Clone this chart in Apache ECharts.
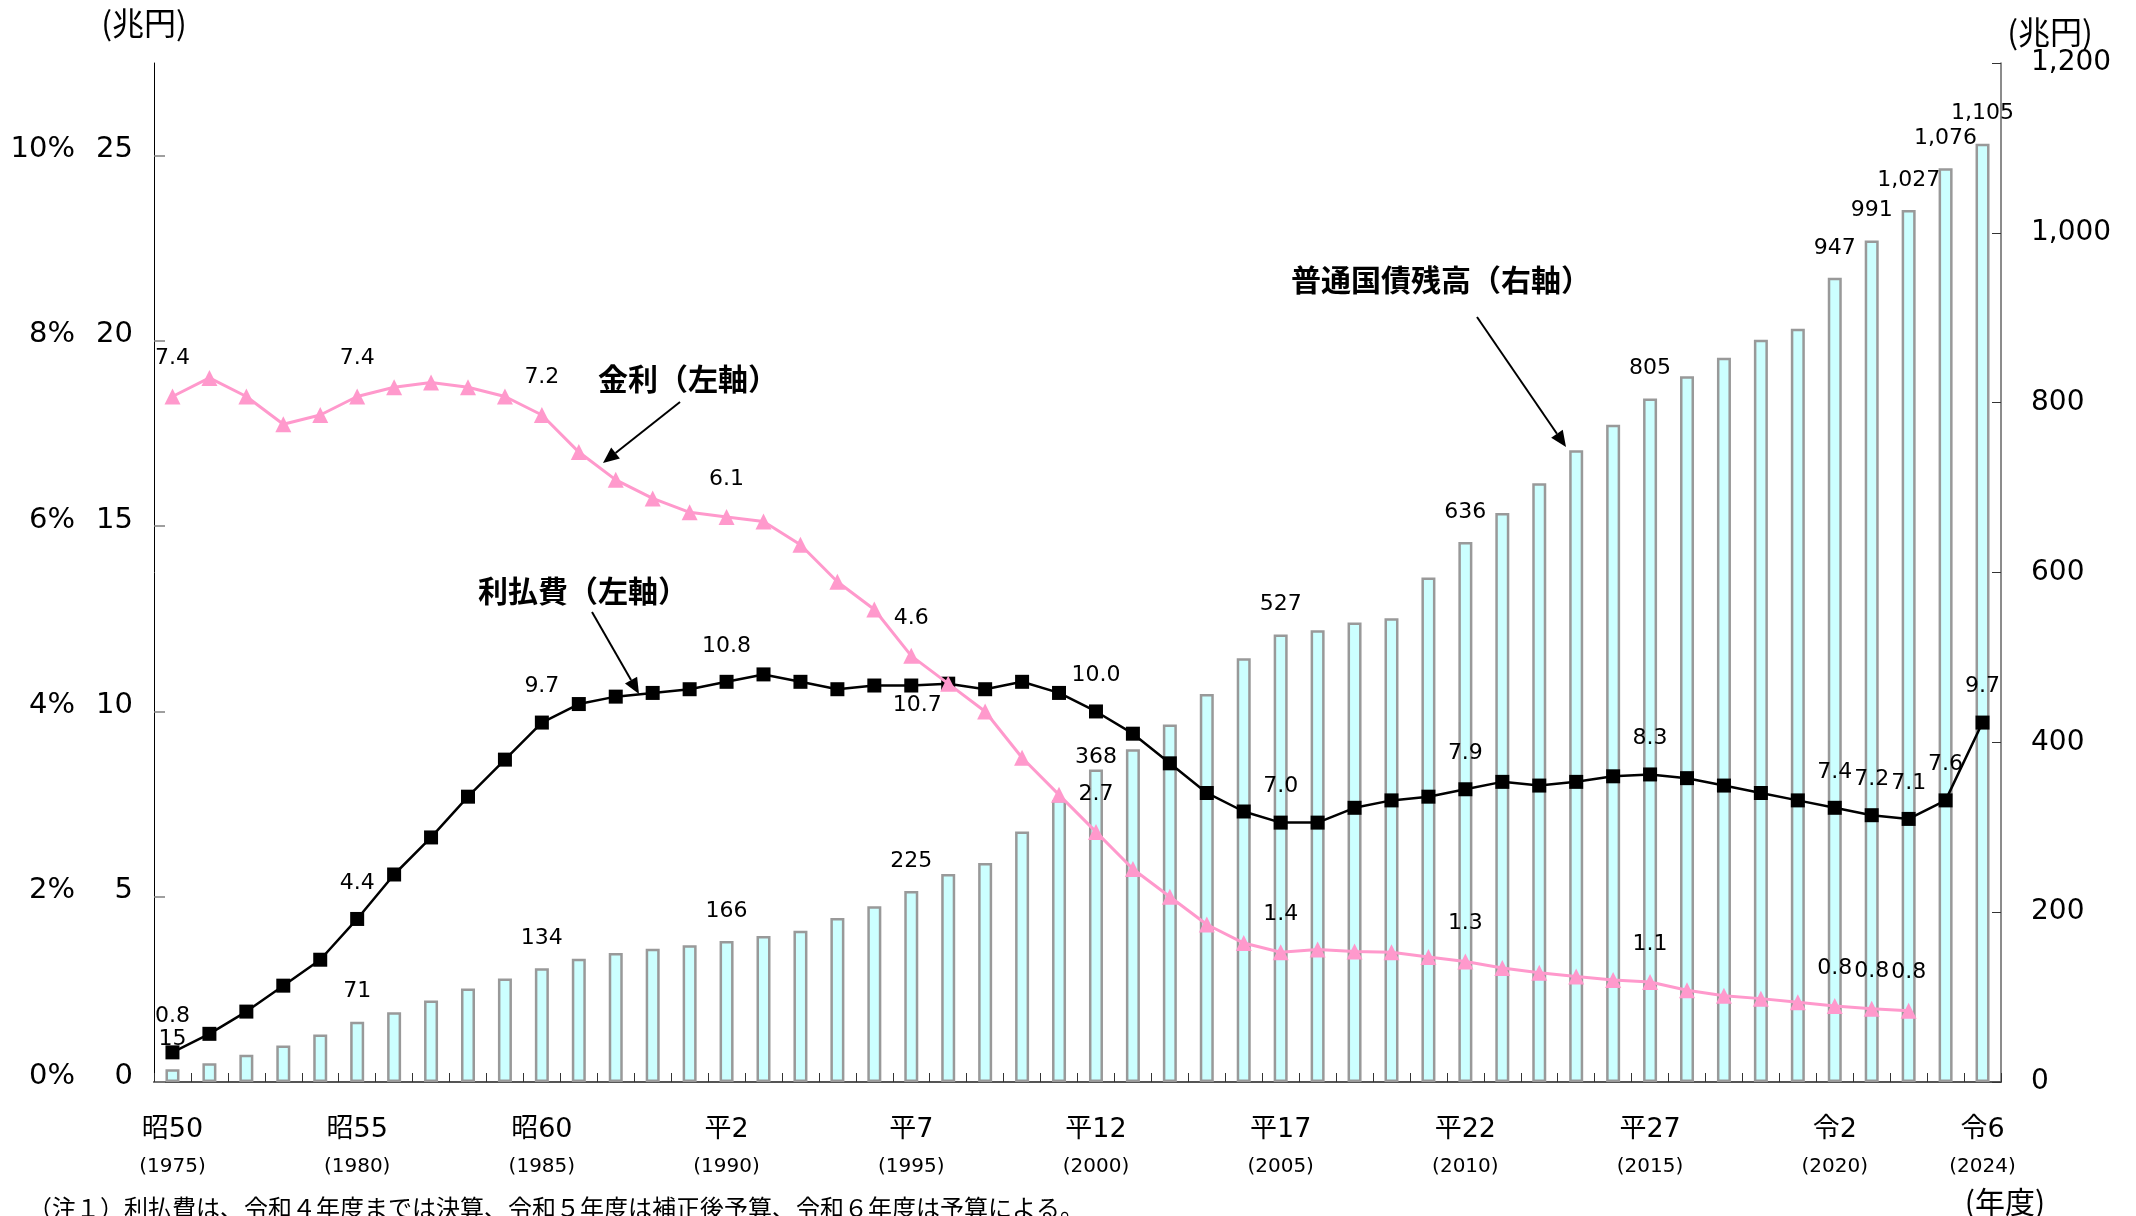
<!DOCTYPE html>
<html>
<head>
<meta charset="utf-8">
<title>普通国債残高・利払費・金利の推移</title>
<script src="https://cdn.jsdelivr.net/npm/echarts@6/dist/echarts.min.js"></script>
<style>
  html, body { margin: 0; padding: 0; background: #fff; }
  #chart { width: 2136px; height: 1216px; }
</style>
</head>
<body>
<div id="chart"></div>
<script>
// 年度（1975〜2024）
const years = [
  '1975','1976','1977','1978','1979','1980','1981','1982','1983','1984',
  '1985','1986','1987','1988','1989','1990','1991','1992','1993','1994',
  '1995','1996','1997','1998','1999','2000','2001','2002','2003','2004',
  '2005','2006','2007','2008','2009','2010','2011','2012','2013','2014',
  '2015','2016','2017','2018','2019','2020','2021','2022','2023','2024'
];

// 目盛に表示する年度と和暦
const tickYears = ['1975','1980','1985','1990','1995','2000','2005','2010','2015','2020','2024'];
const tickEras  = ['昭50','昭55','昭60','平2','平7','平12','平17','平22','平27','令2','令6'];

// 普通国債残高（兆円・右軸）
const debt = [
  15, 22, 32, 43, 56, 71, 82, 96, 110, 122,
  134, 145, 152, 157, 161, 166, 172, 178, 193, 207,
  225, 245, 258, 295, 332, 368, 392, 421, 457, 499,
  527, 532, 541, 546, 594, 636, 670, 705, 744, 774,
  805, 831, 853, 874, 887, 947, 991, 1027, 1076, 1105
];

// 利払費（兆円・左軸）
const interestCost = [
  0.8, 1.3, 1.9, 2.6, 3.3, 4.4, 5.6, 6.6, 7.7, 8.7,
  9.7, 10.2, 10.4, 10.5, 10.6, 10.8, 11.0, 10.8, 10.6, 10.7,
  10.7, 10.75, 10.6, 10.8, 10.5, 10.0, 9.4, 8.6, 7.8, 7.3,
  7.0, 7.0, 7.4, 7.6, 7.7, 7.9, 8.1, 8.0, 8.1, 8.25,
  8.3, 8.2, 8.0, 7.8, 7.6, 7.4, 7.2, 7.1, 7.6, 9.7
];

// 金利（%・左軸、10% = 25兆円の目盛）
const rate = [
  7.4, 7.6, 7.4, 7.1, 7.2, 7.4, 7.5, 7.55, 7.5, 7.4,
  7.2, 6.8, 6.5, 6.3, 6.15, 6.1, 6.05, 5.8, 5.4, 5.1,
  4.6, 4.3, 4.0, 3.5, 3.1, 2.7, 2.3, 2.0, 1.7, 1.5,
  1.4, 1.43, 1.41, 1.4, 1.35, 1.3, 1.23, 1.18, 1.14, 1.1,
  1.08, 0.99, 0.93, 0.9, 0.86, 0.82, 0.79, 0.77, null, null
];

// 数値を表示する年度
const debtLabelYears = ['1975','1980','1985','1990','1995','2000','2005','2010','2015','2020','2021','2022','2023','2024'];
const costLabelYears = ['1975','1980','1985','1990','1995','2000','2005','2010','2015','2020','2021','2022','2023','2024'];
const rateLabelYears = ['1975','1980','1985','1990','1995','2000','2005','2010','2015','2020','2021','2022'];

const leftTicks = [0, 5, 10, 15, 20, 25];

const NUM_FONT = '"DejaVu Sans", "Noto Sans CJK JP", sans-serif';
const JP_FONT = '"Noto Sans CJK JP", "DejaVu Sans", sans-serif';

function withLabels(values, labelYears, overrides) {
  return values.map((v, i) => {
    const y = years[i];
    if (v == null) return null;
    if (!labelYears.includes(y)) return v;
    return { value: v, label: Object.assign({ show: true }, overrides[y] || {}) };
  });
}

function arrow(x1, y1, x2, y2) {
  const len = Math.hypot(x2 - x1, y2 - y1);
  const ux = (x2 - x1) / len, uy = (y2 - y1) / len;
  const head = 16, half = 7;
  const bx = x2 - ux * head, by = y2 - uy * head;
  return {
    type: 'group',
    silent: true,
    children: [
      { type: 'line', shape: { x1: x1, y1: y1, x2: bx, y2: by },
        style: { stroke: '#000', lineWidth: 2 } },
      { type: 'polygon',
        shape: { points: [[x2, y2], [bx - uy * half, by + ux * half], [bx + uy * half, by - ux * half]] },
        style: { fill: '#000' } }
    ]
  };
}

function text(str, x, y, font, align, vAlign) {
  return {
    type: 'text', silent: true, z: 10,
    style: {
      text: str, x: x, y: y, fill: '#000', font: font,
      textAlign: align, textVerticalAlign: vAlign,
      align: align, verticalAlign: vAlign
    }
  };
}

const chart = echarts.init(document.getElementById('chart'), null, { renderer: 'canvas' });

const option = {
  animation: false,
  backgroundColor: '#fff',
  grid: { left: 154, right: 135, top: 63, bottom: 134, containLabel: false, outerBoundsMode: 'none' },
  xAxis: {
    type: 'category',
    data: years,
    boundaryGap: true,
    axisLine: { show: true, lineStyle: { color: '#555', width: 2 } },
    axisTick: { show: true, inside: true, length: 9, interval: 0, lineStyle: { color: '#333', width: 1 } },
    axisLabel: {
      interval: (i, v) => tickYears.includes(v),
      margin: 26,
      formatter: v => '{a|' + tickEras[tickYears.indexOf(v)] + '}\n{b|(' + v + ')}',
      rich: {
        a: { fontSize: 27, lineHeight: 44, fontFamily: NUM_FONT, color: '#000' },
        b: { fontSize: 20, lineHeight: 30, fontFamily: NUM_FONT, color: '#000' }
      }
    },
    splitLine: { show: false }
  },
  yAxis: [
    {
      type: 'value', position: 'left',
      min: 0, max: 27.5, interval: 5,
      axisLine: { show: true, lineStyle: { color: '#000', width: 1 } },
      axisTick: { show: true, inside: true, length: 11, customValues: leftTicks,
                  lineStyle: { color: '#808080', width: 1.5 } },
      axisLabel: {
        customValues: leftTicks,
        margin: 21,
        padding: [0, 0, 12, 0],
        formatter: v => (leftTicks.includes(v) ? '{p|' + (v / 2.5) + '%}{n|' + v + '}' : ''),
        rich: {
          p: { fontSize: 29, fontFamily: NUM_FONT, color: '#000' },
          n: { fontSize: 29, fontFamily: NUM_FONT, color: '#000', width: 58, align: 'right' }
        }
      },
      splitLine: { show: false }
    },
    {
      type: 'value', position: 'right',
      min: 0, max: 1200, interval: 200,
      axisLine: { show: true, lineStyle: { color: '#666', width: 1.5 } },
      axisTick: { show: true, inside: true, length: 9, lineStyle: { color: '#333', width: 1 } },
      axisLabel: {
        margin: 30, fontSize: 28, fontFamily: NUM_FONT, color: '#000',
        formatter: v => v.toLocaleString('en-US')
      },
      splitLine: { show: false }
    },
    {
      type: 'value', show: false, min: 0, max: 11
    }
  ],
  series: [
    {
      name: '普通国債残高',
      type: 'bar',
      yAxisIndex: 1,
      barWidth: 14,
      z: 1,
      itemStyle: { color: '#CCFFFF', borderColor: '#999999', borderWidth: 2.5 },
      label: {
        show: false, position: 'top', distance: 19,
        fontSize: 22, fontFamily: NUM_FONT, color: '#000',
        formatter: p => Number(p.value).toLocaleString('en-US')
      },
      data: withLabels(debt, debtLabelYears, { '2000': { distance: 1 } })
    },
    {
      name: '利払費',
      type: 'line',
      yAxisIndex: 0,
      z: 3,
      symbol: 'rect',
      symbolSize: 14,
      showAllSymbol: true,
      lineStyle: { color: '#000', width: 2.5 },
      itemStyle: { color: '#000' },
      label: {
        show: false, position: 'top', distance: 18,
        fontSize: 22, fontFamily: NUM_FONT, color: '#000',
        formatter: p => Number(p.value).toFixed(1)
      },
      data: withLabels(interestCost, costLabelYears, {
        '1995': { position: 'bottom', distance: 2, offset: [6, 0] }
      })
    },
    {
      name: '金利',
      type: 'line',
      yAxisIndex: 2,
      z: 4,
      symbol: 'triangle',
      symbolSize: 16,
      showAllSymbol: true,
      connectNulls: false,
      lineStyle: { color: '#FF99CC', width: 3 },
      itemStyle: { color: '#FF99CC' },
      label: {
        show: false, position: 'top', distance: 19,
        fontSize: 22, fontFamily: NUM_FONT, color: '#000',
        formatter: p => Number(p.value).toFixed(1)
      },
      data: withLabels(rate, rateLabelYears, {})
    }
  ],
  graphic: [
    text('(兆円)', 144, 23, '32px ' + JP_FONT, 'center', 'middle'),
    text('(兆円)', 2050, 32, '32px ' + JP_FONT, 'center', 'middle'),
    text('(年度)', 2005, 1202, '30px ' + JP_FONT, 'center', 'middle'),
    text('金利（左軸）', 598, 379, 'bold 30px ' + JP_FONT, 'left', 'middle'),
    text('利払費（左軸）', 478, 591, 'bold 30px ' + JP_FONT, 'left', 'middle'),
    text('普通国債残高（右軸）', 1291, 280, 'bold 30px ' + JP_FONT, 'left', 'middle'),
    text('（注１）利払費は、令和４年度までは決算、令和５年度は補正後予算、令和６年度は予算による。',
         28, 1196, '24px ' + JP_FONT, 'left', 'top'),
    arrow(680, 402, 603, 463),
    arrow(592, 612, 639, 694),
    arrow(1477, 317, 1566, 447)
  ]
};

chart.setOption(option);
</script>
</body>
</html>
